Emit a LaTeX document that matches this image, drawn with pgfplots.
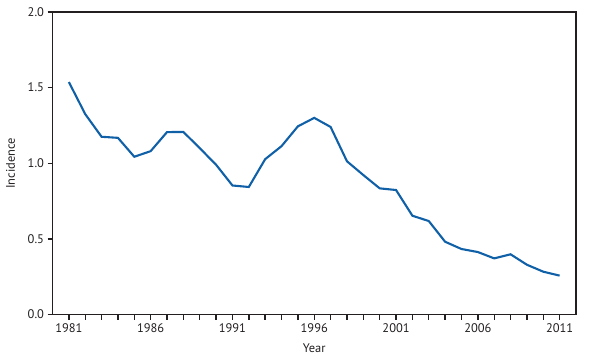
\documentclass[border=0pt]{standalone}
\usepackage{pgfplots}
\pgfplotsset{compat=1.18}
\usepackage{fontspec}
\setmainfont{PT Sans}
\usetikzlibrary{calc}
\definecolor{lineblue}{RGB}{16,96,168}
\definecolor{axgray}{RGB}{35,31,32}
\pgfplotstableread{
year val
1981 1.537
1982 1.325
1983 1.175
1984 1.168
1985 1.043
1986 1.080
1987 1.206
1988 1.207
1989 1.100
1990 0.990
1991 0.853
1992 0.843
1993 1.027
1994 1.113
1995 1.244
1996 1.300
1997 1.240
1998 1.013
1999 0.922
2000 0.834
2001 0.823
2002 0.653
2003 0.618
2004 0.481
2005 0.433
2006 0.413
2007 0.371
2008 0.398
2009 0.329
2010 0.283
2011 0.257
}\datatable
\begin{document}
\begin{tikzpicture}
\begin{axis}[
  scale only axis,
  width=523.5bp, height=302.5bp,
  xmin=1980, xmax=2012,
  ymin=0, ymax=2,
  xtick={1981,1986,...,2011},
  minor x tick num=4,
  ytick={0,0.5,1,1.5,2},
  tick pos=left,
  tick align=outside,
  major tick length=5bp,
  minor tick length=5bp,
  every tick/.style={axgray, line width=1.4bp},
  axis line style={axgray, line width=1.6bp},
  x tick label style={/pgf/number format/1000 sep={}, font=\fontsize{12.5}{13}\selectfont, text=axgray, yshift=-1bp},
  y tick label style={/pgf/number format/fixed, /pgf/number format/fixed zerofill, /pgf/number format/precision=1, font=\fontsize{12.5}{13}\selectfont, text=axgray},
  /pgf/number format/assume math mode=true,
  xlabel={Year}, ylabel={Incidence},
  label style={font=\fontsize{12.5}{13}\selectfont, text=axgray},
  xlabel style={yshift=-4bp},
  ylabel style={yshift=6bp},
]
\addplot[lineblue, line width=2.1bp, mark=none] table[x=year, y=val] {\datatable};
\coordinate (SW) at (rel axis cs:0,0);
\coordinate (NE) at (rel axis cs:1,1);
\end{axis}
\pgfresetboundingbox
\path[use as bounding box] ($(SW)+(-52.5bp,-44.5bp)$) rectangle ($(NE)+(20bp,12bp)$);
\end{tikzpicture}
\end{document}
